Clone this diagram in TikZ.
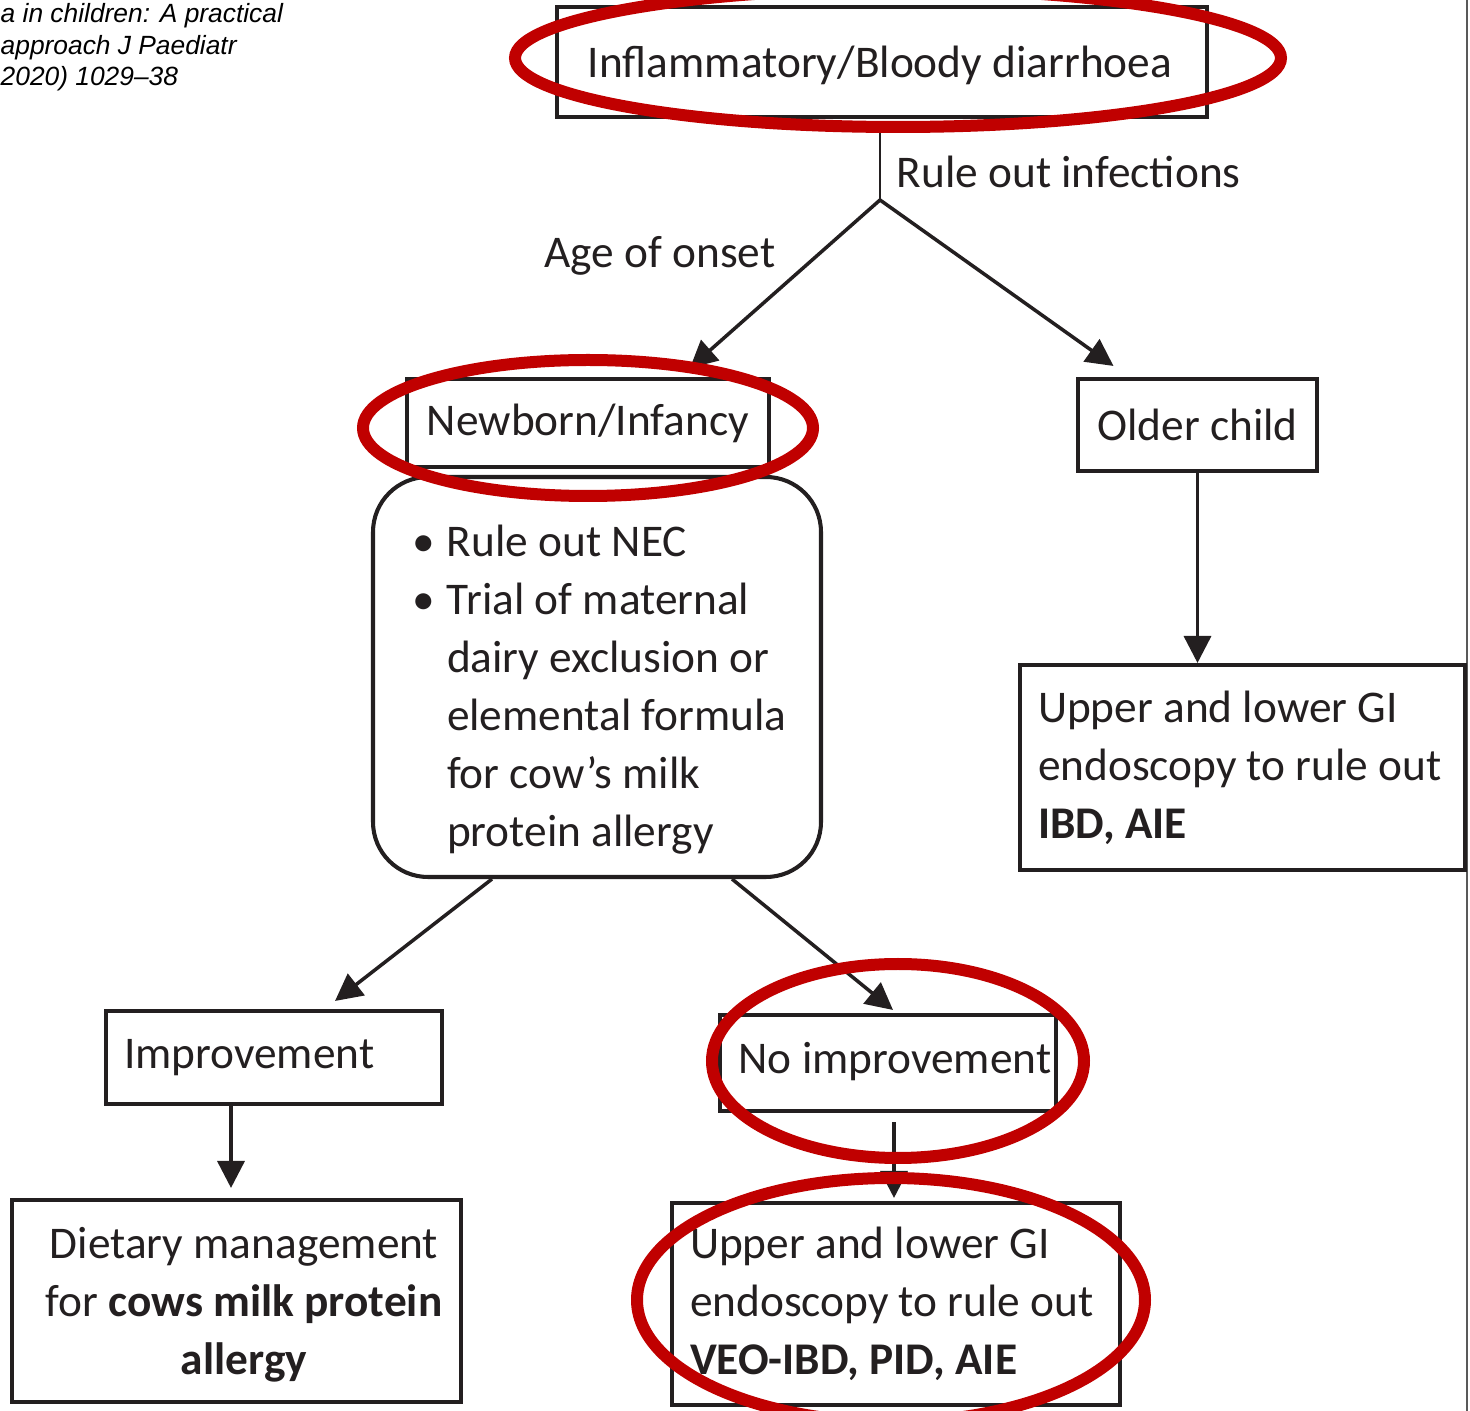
\documentclass[tikz,border=0pt]{standalone}
\usepackage{fontspec}
\setmainfont{Carlito}
\newfontfamily\citefont{Liberation Sans}
\usetikzlibrary{arrows.meta,calc,positioning}
\definecolor{ringred}{HTML}{C00000}
\definecolor{boxline}{HTML}{231F20}
\newcommand{\bulletitem}{\makebox[3.5mm][l]{\textbullet}}
\newcommand{\indentitem}{\hspace*{3.5mm}}

\begin{document}
\begin{tikzpicture}[x=0.1mm,y=-0.1mm]
\tikzstyle{every node}+=[font=\fontsize{12.9}{16.5}\selectfont\frenchspacing, text=boxline, execute at begin node={\spaceskip=0pt\xspaceskip=0pt\hyphenpenalty=10000\relax}]
\tikzstyle{box}=[draw=boxline, line width=1.15pt, inner sep=0pt, align=center]
\tikzstyle{leftbox}=[box, align=left, inner xsep=1.8mm]
\tikzstyle{boxtext}=[inner sep=0pt]
\tikzstyle{arrow}=[draw=boxline, line width=1pt, -{Triangle[length=2.7mm,width=2.7mm]}]
\tikzstyle{ring}=[draw=ringred, line width=1.2mm]
\useasboundingbox (0,0) rectangle (1470,1411);
\draw [gray!70!black, line width=0.6pt] (1467,0) -- (1467,1411);
\node [anchor=north west, align=left, inner sep=0pt, font=\citefont\itshape\fontsize{7.5}{8.9}\selectfont, text=black] (cite) at (0,3) {a in children: A practical\\approach J Paediatr\\2020) 1029–38};
\node [box, minimum width=65mm, minimum height=11mm] (top) at (882,62) {};
\node [boxtext] (toptext) at (880,65) {Inflammatory/Bloody diarrhoea};
\node [box, minimum width=36.2mm, minimum height=8.8mm] (newborn) at (588,423) {Newborn/Infancy};
\node [box, minimum width=23.9mm, minimum height=9.2mm] (older) at (1197.5,425) {Older child};
\node [leftbox, text width=40.9mm, minimum height=20.5mm] (rightbox) at (1242.5,767.5) {Upper and lower GI\\endoscopy to rule out\\\textbf{IBD, AIE}};
\node [box, rounded corners=5.5mm, minimum width=44.8mm, minimum height=40mm] (trial) at (597,677) {};
\node [boxtext, align=left, text width=39mm] (trialtext) at (607,690) {\bulletitem Rule out NEC\\\bulletitem Trial of maternal\\\indentitem dairy exclusion or\\\indentitem elemental formula\\\indentitem for cow’s milk\\\indentitem protein allergy};
\node [leftbox, text width=30mm, minimum height=9.3mm] (improve) at (274,1057.5) {Improvement};
\node [box, minimum width=44.9mm, minimum height=20.2mm] (dietary) at (236.5,1301) {};
\node [boxtext, align=center] (dietarytext) at (244,1305) {Dietary management\\for \textbf{cows milk protein}\\\textbf{allergy}};
\node [box, minimum width=33.6mm, minimum height=9.6mm] (noimp) at (888,1063) {};
\node [boxtext, anchor=west] (noimptext) at (738,1062) {No improvement};
\node [leftbox, text width=41.2mm, minimum height=20.2mm] (bottom) at (896,1304) {Upper and lower GI\\endoscopy to rule out\\\textbf{VEO-IBD, PID, AIE}};
\node [anchor=west, inner sep=0pt] (rulelbl) at (896,172) {Rule out infections};
\node [anchor=east, inner sep=0pt] (agelbl) at (776,256) {Age of onset};
\coordinate (split) at (880,200);
\draw [boxline, line width=0.7pt, shorten <=0.5mm] (top.south -| split) -- (split);
\draw [arrow] (split) -- ($(newborn.north)+(102,-9)$);
\draw [arrow] (split) -- ($(older.north)+(-84,-11)$);
\draw [arrow] (older.south) -- (older.south |- rightbox.north);
\draw [arrow] ($(trial.south)+(-105,0)$) -- ($(improve.north)+(61,-8)$);
\draw [arrow] ($(trial.south)+(135,0)$) -- ($(noimp.north)+(5,-3)$);
\draw [arrow] ($(improve.south)+(-43,0)$) -- ($(dietary.north)+(-5.5,-10)$);
\draw [arrow] ($(noimp.south)+(6,9)$) -- ($(bottom.north)+(-2,-3)$);
\draw [ring] (898,58) ellipse [x radius=38.3mm, y radius=6.9mm];
\draw [ring] (588,428) ellipse [x radius=22.5mm, y radius=6.8mm];
\draw [ring] (898,1061) ellipse [x radius=18.6mm, y radius=9.7mm];
\draw [ring] (891,1300) ellipse [x radius=25.4mm, y radius=12.2mm];
\end{tikzpicture}
\end{document}
